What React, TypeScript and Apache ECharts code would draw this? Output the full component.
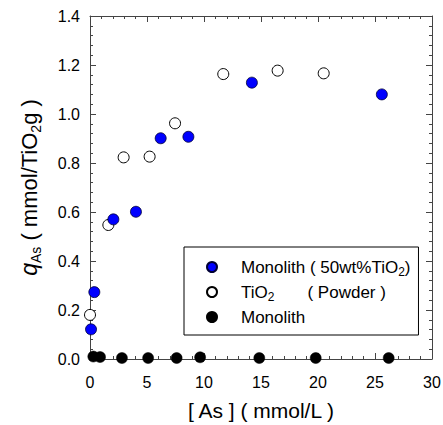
import React, { useEffect, useRef } from "react";
import * as echarts from "echarts";

const monolithTiO2X = [0.09, 0.38, 2.05, 4.03, 6.2, 8.63, 14.2, 25.6];
const monolithTiO2Y = [0.121, 0.273, 0.57, 0.601, 0.901, 0.907, 1.128, 1.08];
const powderX = [0.0, 1.61, 2.95, 5.23, 7.46, 11.69, 16.46, 20.5];
const powderY = [0.18, 0.547, 0.823, 0.826, 0.962, 1.163, 1.177, 1.166];
const monolithX = [0.29, 0.88, 2.8, 5.1, 7.6, 9.66, 14.85, 19.8, 26.2];
const monolithY = [0.01, 0.008, 0.004, 0.004, 0.004, 0.007, 0.004, 0.004, 0.004];

const xTicks = { min: 0, max: 30, interval: 5 };
const yTicks = { min: 0, max: 1.4, interval: 0.2 };

const FONT = "'Liberation Sans', Arial, Helvetica, sans-serif";
const AXIS_COLOR = "#444";

function pairs(xs: number[], ys: number[]) {
  return xs.map((x, i) => [x, ys[i]]);
}

export default function App() {
  const ref = useRef<HTMLDivElement>(null);
  useEffect(() => {
    if (!ref.current) return;
    const chart = echarts.init(ref.current, null, { renderer: "svg" });
    const axisCommon = {
      axisLine: { show: true, onZero: false, lineStyle: { color: AXIS_COLOR, width: 1 } },
      axisTick: { show: true, inside: true, length: 6, lineStyle: { color: AXIS_COLOR } },
      minorTick: { show: true, splitNumber: 5, length: 3, lineStyle: { color: AXIS_COLOR } },
      splitLine: { show: false },
    };
    chart.setOption({
      animation: false,
      backgroundColor: "#fff",
      grid: { left: 90, right: 11, top: 16, bottom: 66, containLabel: false, outerBoundsMode: "none" },
      xAxis: [
        {
          type: "value",
          ...xTicks,
          position: "bottom",
          ...axisCommon,
          axisLabel: { color: "#000", fontSize: 16, fontFamily: FONT, margin: 15 },
          name: "[ As ] ( mmol/L )",
          nameLocation: "middle",
          nameGap: 41,
          nameTextStyle: { color: "#000", fontSize: 21, fontFamily: FONT },
        },
        {
          type: "value",
          ...xTicks,
          position: "top",
          ...axisCommon,
          axisLabel: { show: false },
        },
      ],
      yAxis: [
        {
          type: "value",
          ...yTicks,
          position: "left",
          ...axisCommon,
          axisLabel: {
            color: "#000",
            fontSize: 16,
            fontFamily: FONT,
            margin: 10,
            formatter: (v: number) => v.toFixed(1),
          },
          name: "{i|q}{s|As}{n| ( mmol/TiO}{s|2}{n|g )}",
          nameLocation: "middle",
          nameGap: 47,
          nameRotate: 90,
          nameTextStyle: {
            color: "#000",
            fontSize: 22,
            fontFamily: FONT,
            rich: {
              i: { fontSize: 23, fontStyle: "italic", fontFamily: FONT, color: "#000", lineHeight: 28 },
              n: { fontSize: 22, fontFamily: FONT, color: "#000", lineHeight: 28 },
              s: { fontSize: 14, fontFamily: FONT, color: "#000", lineHeight: 14, verticalAlign: "bottom" },
            },
          },
        },
        {
          type: "value",
          ...yTicks,
          position: "right",
          ...axisCommon,
          axisLabel: { show: false },
        },
      ],
      legend: {
        orient: "vertical",
        left: 184,
        top: 247,
        padding: [9, 8, 7, 22],
        itemGap: 3,
        itemWidth: 10,
        itemHeight: 10,
        borderColor: "#000",
        borderWidth: 1,
        backgroundColor: "#fff",
        data: ["m50", "powder", "mono"],
        formatter: (name: string) => {
          if (name === "m50") return "{n|Monolith ( 50wt%TiO}{s|2}{n|)}";
          if (name === "powder") return "{n|TiO}{s|2}{n|       ( Powder )}";
          return "{n|Monolith}";
        },
        textStyle: {
          color: "#000",
          fontSize: 17,
          fontFamily: FONT,
          lineHeight: 22,
          padding: [0, 0, 0, 19],
          rich: {
            n: { fontSize: 17, fontFamily: FONT, color: "#000", lineHeight: 22 },
            s: { fontSize: 12, fontFamily: FONT, color: "#000", lineHeight: 12, verticalAlign: "bottom" },
          },
        },
      },
      series: [
        {
          name: "m50",
          type: "scatter",
          clip: false,
          symbol: "circle",
          symbolSize: 11,
          itemStyle: { color: "#0000ff", borderColor: "#000033", borderWidth: 0.8, opacity: 1 },
          data: pairs(monolithTiO2X, monolithTiO2Y),
          z: 4,
        },
        {
          name: "powder",
          type: "scatter",
          clip: false,
          symbol: "circle",
          symbolSize: 11,
          itemStyle: { color: "#fff", borderColor: "#000", borderWidth: 1, opacity: 1 },
          data: pairs(powderX, powderY),
          z: 3,
        },
        {
          name: "mono",
          type: "scatter",
          clip: false,
          symbol: "circle",
          symbolSize: 11,
          itemStyle: { color: "#000", borderColor: "#000", borderWidth: 0.5, opacity: 1 },
          data: pairs(monolithX, monolithY),
          z: 5,
        },
      ],
    });
    return () => chart.dispose();
  }, []);
  return <div ref={ref} style={{ width: 443, height: 425, position: "absolute", left: 0, top: 0 }} />;
}
